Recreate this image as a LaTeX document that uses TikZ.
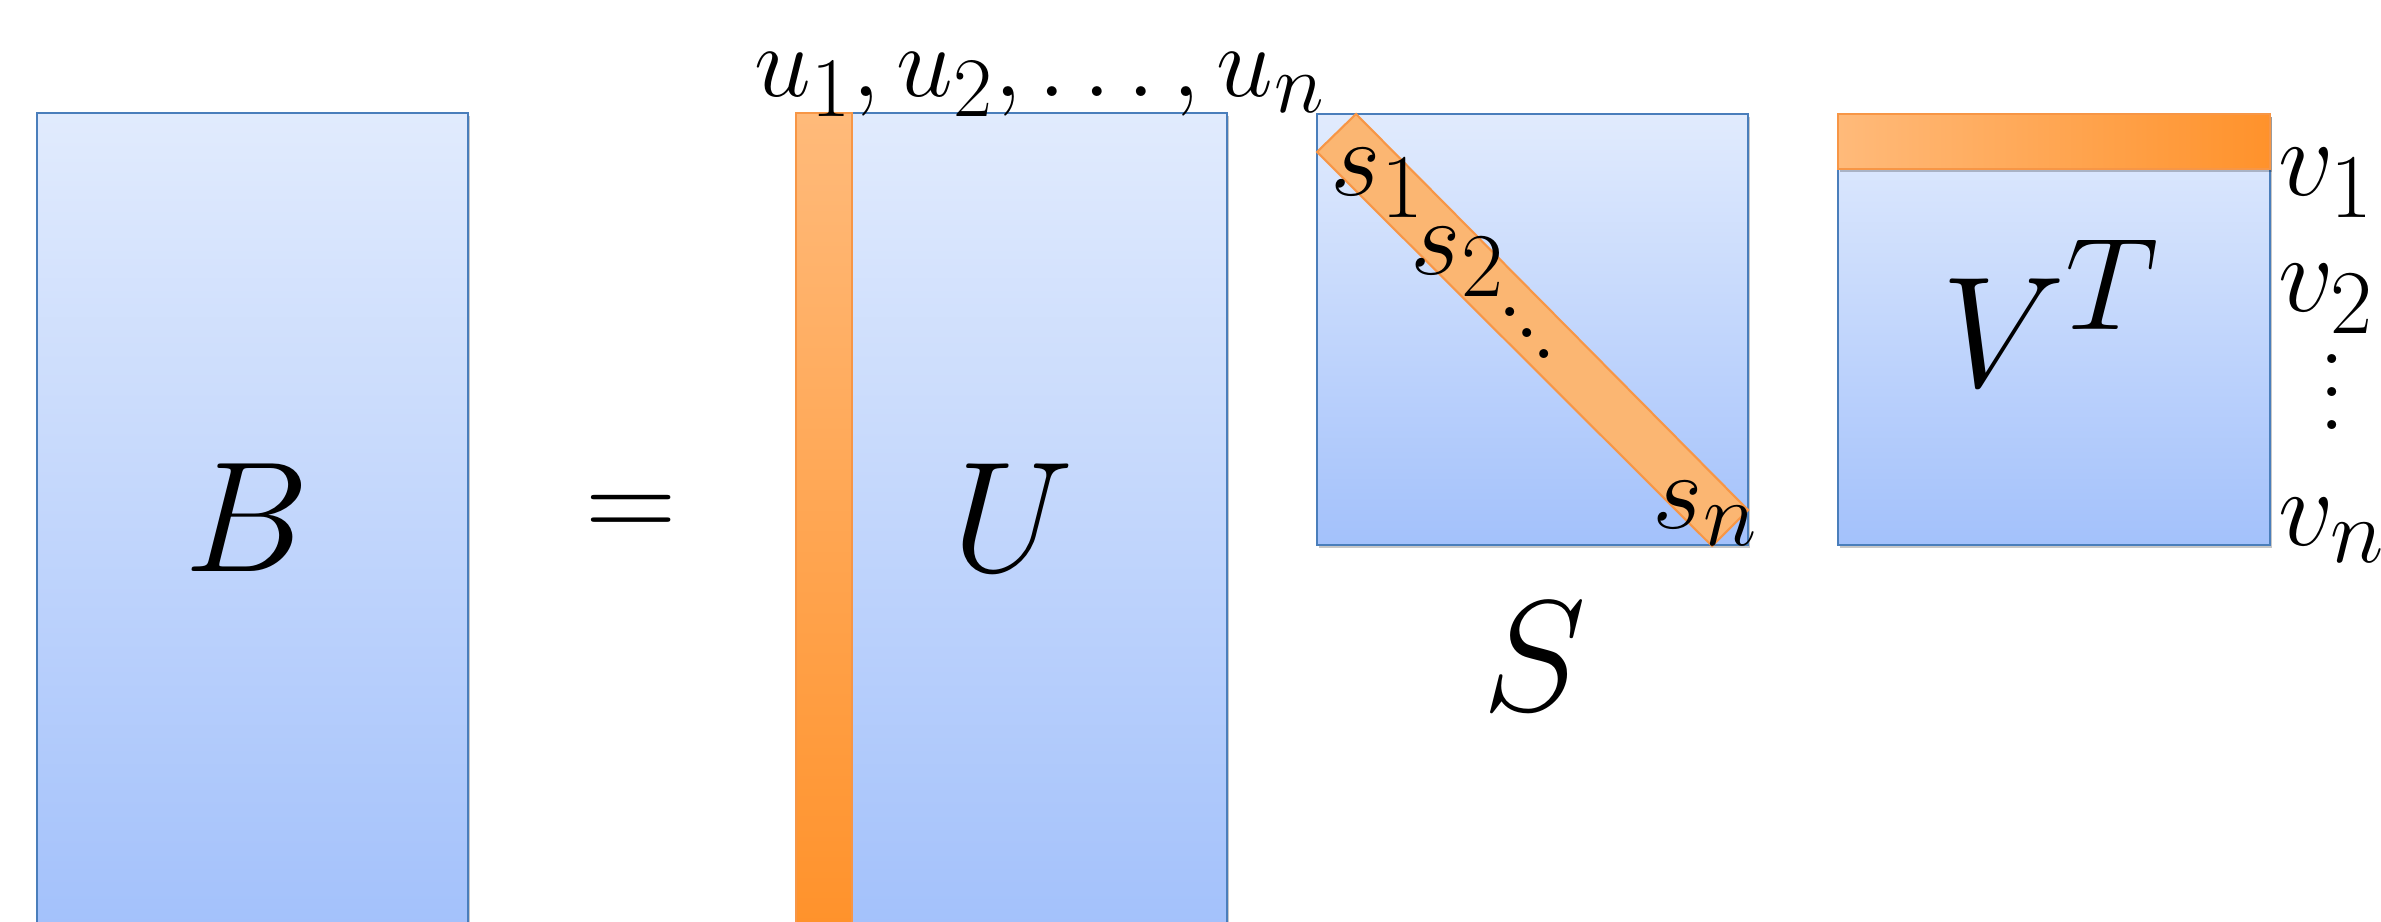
\documentclass[tikz,border=0pt]{standalone}
\usetikzlibrary{shadows}
\definecolor{bluetop}{HTML}{E1EBFD}
\definecolor{bluebot}{HTML}{A3C1FB}
\definecolor{blueline}{HTML}{4A7EBB}
\definecolor{orline}{HTML}{F79646}
\definecolor{orlight}{HTML}{FFBA7A}
\definecolor{ordark}{HTML}{FF922B}
\definecolor{orband}{HTML}{FBB672}
\newcommand\myvdots{\vbox{\baselineskip=7.5pt\lineskiplimit=0pt\hbox{.}\hbox{.}\hbox{.}}}
\newcommand\myddots{\hbox{\raise9.5pt\hbox{.}\kern-2.4pt\raise4.75pt\hbox{.}\kern-2.4pt\hbox{.}}}
\begin{document}
\begin{tikzpicture}[x=0.01cm,y=-0.01cm,
  shad/.style={drop shadow={shadow xshift=0.5pt,shadow yshift=-0.9pt,opacity=0.22,fill=black}},
  matrixbox/.style={draw=blueline,line width=0.7pt,top color=bluetop,bottom color=bluebot,shad},
  orstrip/.style={draw=orline,line width=0.6pt},
  big/.style={font=\Huge,scale=1.8,inner sep=0pt},
  lab/.style={font=\Huge,scale=1.25,inner sep=0pt},
]
\useasboundingbox (0,0) rectangle (2381,922);
\clip (0,0) rectangle (2381,922);
% B
\draw[matrixbox] (37,113) rectangle (468,928);
% U
\draw[matrixbox] (796,113) rectangle (1227,928);
\draw[orstrip,top color=orlight,bottom color=ordark] (796,113) rectangle (852,928);
% S
\draw[matrixbox] (1317,114) rectangle (1748,545);
\draw[orstrip,fill=orband] (1317,152) -- (1356,114) -- (1748,510) -- (1712,546) -- cycle;
% V^T
\draw[matrixbox] (1838,114) rectangle (2270,545);
\draw[orstrip,left color=orlight,right color=ordark,shad] (1838,114) rectangle (2270,169);
% texts
\node[big] (B) at (247,518) {$B$};
\node[font=\Huge,scale=1.45,inner sep=0pt] (eq) at (631,518) {$=$};
\node[big] (U) at (1013,518) {$U$};
\node[lab,scale=0.93,anchor=base] (ulab) at (1040,97) {$u_1,u_2,\ldots,u_n$};
\node[big] (S) at (1534,657) {$S$};
\node[big,anchor=base] (VT) at (2052,387) {$V^T$};
\node[lab,anchor=base west] (v1) at (2278,196) {$v_1$};
\node[lab,anchor=base west] (v2) at (2278,312) {$v_2$};
\node[lab] (vd) at (2332,392) {\myvdots};
\node[lab,anchor=base west] (vn) at (2278,546) {$v_n$};
\node[lab,anchor=base west] (s1) at (1330,196) {$s_1$};
\node[lab,anchor=base west] (s2) at (1410,275) {$s_2$};
\node[lab] (sd) at (1527,333) {\myddots};
\node[lab,anchor=base west] (sn) at (1652,529) {$s_n$};
\end{tikzpicture}
\end{document}
